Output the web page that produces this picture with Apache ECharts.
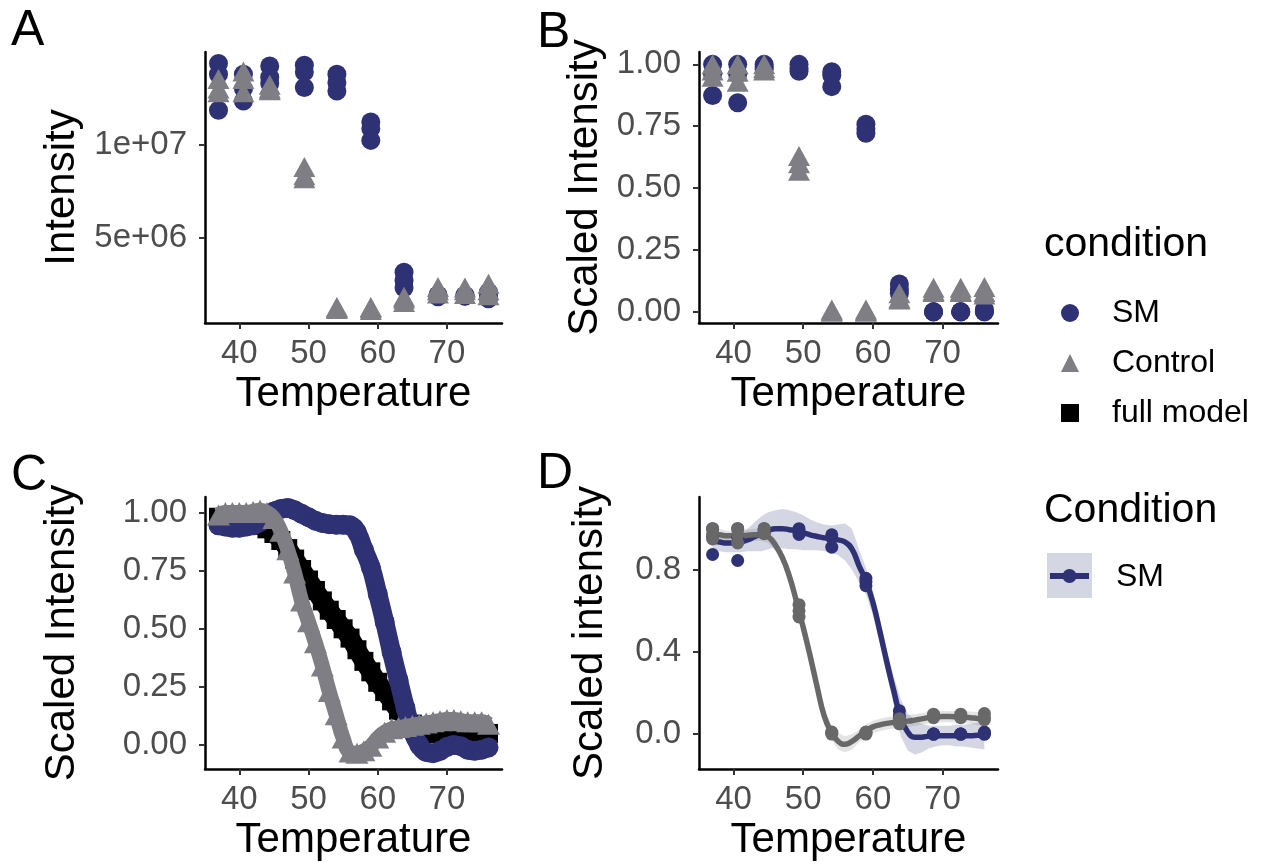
<!DOCTYPE html>
<html><head><meta charset="utf-8">
<script src="https://cdn.jsdelivr.net/npm/echarts@6/dist/echarts.min.js"></script>
<style>html,body{margin:0;padding:0;background:#fff}#c{width:1270px;height:862px}</style>
</head><body><div id="c"></div>
<script>
// ---- data ----
const temps = [37.0, 40.6, 44.4, 49.4, 54.1, 59.0, 63.8, 68.7, 72.6, 76.0];
const xTicks = [40, 50, 60, 70];

// Panel A: raw intensity (replicates), SM
const smA1 = [14.33e6, 13.76e6, 14.20e6, 14.24e6, 13.76e6, 11.20e6, 3.17e6, 1.95e6, 1.93e6, 2.10e6];
const smA2 = [13.76e6, 12.99e6, 13.60e6, 13.88e6, 13.31e6, 10.85e6, 2.73e6, 1.90e6, 1.90e6, 1.90e6];
const smA3 = [11.83e6, 12.33e6, 13.26e6, 13.05e6, 12.86e6, 10.22e6, 2.34e6, 1.85e6, 1.88e6, 1.75e6];
// Panel A: Control
const ctA1 = [13.50e6, 13.90e6, 13.20e6, 8.80e6, 1.30e6, 1.30e6, 1.85e6, 2.37e6, 2.35e6, 2.55e6];
const ctA2 = [13.00e6, 13.50e6, 13.00e6, 8.35e6, 1.25e6, 1.25e6, 1.75e6, 2.20e6, 2.20e6, 2.20e6];
const ctA3 = [12.80e6, 12.80e6, 12.90e6, 8.20e6, 1.20e6, 1.15e6, 1.57e6, 2.03e6, 2.00e6, 1.93e6];
const yTicksA = [5e6, 1e7];

// Panel B / D points: scaled intensity
const smB1 = [1.000, 1.000, 1.000, 1.000, 0.970, 0.758, 0.113, 0.000, 0.000, 0.010];
const smB2 = [0.960, 0.960, 0.990, 0.985, 0.956, 0.740, 0.090, 0.000, 0.000, 0.000];
const smB3 = [0.874, 0.845, 0.980, 0.972, 0.910, 0.722, 0.075, 0.000, 0.000, 0.000];
const ctB1 = [1.000, 1.000, 1.000, 0.630, 0.010, 0.010, 0.075, 0.097, 0.097, 0.100];
const ctB2 = [0.975, 0.970, 0.985, 0.600, 0.005, 0.005, 0.055, 0.085, 0.085, 0.080];
const ctB3 = [0.950, 0.930, 0.975, 0.570, 0.000, 0.000, 0.050, 0.080, 0.080, 0.070];
const yTicksB = [0, 0.25, 0.5, 0.75, 1];

// Panel C: fitted curves
const tempsC = [37,38,39,40,41,42,43,44,45,46,47,48,49,50,51,52,53,54,55,56,57,58,59,60,61,62,63,64,65,66,67,68,69,70,71,72,73,74,75,76];
const smC = [0.945,0.94,0.935,0.935,0.94,0.945,0.96,0.98,1.005,1.015,1.02,1.01,0.995,0.98,0.965,0.955,0.95,0.948,0.948,0.945,0.915,0.84,0.765,0.65,0.53,0.4,0.28,0.16,0.06,0.0,-0.03,-0.035,-0.025,-0.008,0.0,-0.005,-0.02,-0.025,-0.02,-0.01];
const ctC = [0.99,1.0,1.0,1.0,1.0,1.005,1.01,1.0,0.975,0.92,0.84,0.74,0.62,0.53,0.44,0.34,0.23,0.13,0.03,-0.03,-0.035,-0.025,-0.005,0.03,0.055,0.07,0.075,0.08,0.085,0.09,0.095,0.1,0.105,0.11,0.11,0.105,0.1,0.1,0.1,0.09];
const fmC = [0.98,0.975,0.97,0.965,0.96,0.955,0.945,0.93,0.91,0.88,0.845,0.8,0.755,0.71,0.665,0.62,0.58,0.54,0.5,0.46,0.41,0.36,0.315,0.27,0.23,0.19,0.15,0.12,0.09,0.07,0.055,0.05,0.05,0.05,0.05,0.045,0.04,0.04,0.045,0.05];

// Panel D: smooth fits and confidence ribbons
const tempsD = tempsC;
const smD = [0.94,0.935,0.93,0.93,0.935,0.945,0.96,0.975,0.99,1.0,1.0,0.995,0.99,0.98,0.97,0.962,0.955,0.95,0.945,0.935,0.9,0.82,0.745,0.64,0.5,0.35,0.21,0.08,0.01,-0.015,-0.015,-0.01,-0.008,-0.008,-0.008,-0.008,-0.008,-0.008,-0.006,-0.005];
const smDhi = [0.99,0.98,0.975,0.975,0.985,1.0,1.03,1.06,1.08,1.09,1.095,1.09,1.08,1.065,1.045,1.03,1.02,1.015,1.02,1.025,1.0,0.9,0.81,0.7,0.56,0.41,0.28,0.17,0.1,0.07,0.05,0.04,0.04,0.04,0.04,0.045,0.045,0.05,0.055,0.06];
const smDlo = [0.89,0.89,0.885,0.885,0.885,0.89,0.89,0.89,0.9,0.91,0.905,0.9,0.9,0.895,0.895,0.895,0.89,0.885,0.87,0.845,0.8,0.74,0.68,0.58,0.44,0.29,0.14,-0.01,-0.08,-0.1,-0.09,-0.07,-0.06,-0.055,-0.055,-0.06,-0.06,-0.065,-0.07,-0.075];
const ctD = [0.97,0.97,0.965,0.965,0.965,0.968,0.97,0.97,0.96,0.92,0.86,0.77,0.65,0.52,0.38,0.23,0.09,0.01,-0.035,-0.05,-0.035,-0.01,0.015,0.035,0.045,0.052,0.057,0.06,0.063,0.068,0.074,0.08,0.083,0.085,0.085,0.084,0.082,0.08,0.076,0.073];
const ctDhi = [1.005,1.0,0.99,0.99,0.99,0.995,1.0,1.0,0.99,0.95,0.89,0.8,0.68,0.55,0.41,0.26,0.12,0.045,0.005,-0.01,0.0,0.02,0.045,0.065,0.075,0.082,0.087,0.09,0.093,0.097,0.103,0.108,0.11,0.112,0.112,0.112,0.111,0.11,0.108,0.108];
const ctDlo = [0.935,0.94,0.94,0.94,0.94,0.941,0.94,0.94,0.93,0.89,0.83,0.74,0.62,0.49,0.35,0.2,0.06,-0.025,-0.075,-0.09,-0.075,-0.04,-0.015,0.005,0.015,0.022,0.027,0.03,0.033,0.039,0.045,0.052,0.056,0.058,0.058,0.056,0.053,0.05,0.044,0.038];
const yTicksD = [0, 0.4, 0.8];

// ---- styling ----
const NAVY = '#2E3174';
const GREY = '#7E7E84';
const GREYD = '#686868';
const FONT = '"Liberation Sans", Arial, sans-serif';

function pts(xs, arrs) { const o = []; arrs.forEach(a => a.forEach((v, i) => o.push([xs[i], v]))); return o; }
function line(xs, ys) { return xs.map((x, i) => [x, ys[i]]); }
function expFmt(v) { const p = v.toExponential().split('e'); const e = p[1]; return p[0] + 'e' + e[0] + e.slice(1).padStart(2, '0'); }

const grids = [
  {left: 205, top: 52, width: 297, height: 271},
  {left: 699, top: 52, width: 299, height: 271},
  {left: 205, top: 497, width: 297, height: 273},
  {left: 699, top: 497, width: 299, height: 273}
];

function xAxis(g) {
  return {
    type: 'value', gridIndex: g, min: 35.05, max: 77.95,
    name: 'Temperature', nameLocation: 'middle', nameGap: 50,
    nameTextStyle: {fontSize: 42, color: '#000', fontFamily: FONT},
    axisLine: {show: true, onZero: false, lineStyle: {color: '#000', width: 2.5}},
    axisTick: {show: true, length: 6, lineStyle: {color: '#333', width: 2}, customValues: xTicks},
    axisLabel: {fontSize: 33, color: '#4D4D4D', margin: 14, fontFamily: FONT, customValues: xTicks},
    splitLine: {show: false}
  };
}
function yAxis(g, min, max, ticks, fmt, name, gap) {
  return {
    type: 'value', gridIndex: g, min: min, max: max,
    name: name, nameLocation: 'middle', nameGap: gap,
    nameTextStyle: {fontSize: 42, color: '#000', fontFamily: FONT},
    axisLine: {show: true, onZero: false, lineStyle: {color: '#000', width: 2.5}},
    axisTick: {show: true, length: 6, lineStyle: {color: '#333', width: 2}, customValues: ticks},
    axisLabel: {fontSize: 33, color: '#4D4D4D', margin: 18, fontFamily: FONT, customValues: ticks, formatter: fmt},
    splitLine: {show: false}
  };
}

function ribbon(xi, xs, lo, hi, color) {
  return {
    type: 'custom', xAxisIndex: xi, yAxisIndex: xi, silent: true, z: 1,
    data: [[xs[0], lo[0]]],
    renderItem: function (params, api) {
      const p = [];
      for (let i = 0; i < xs.length; i++) p.push(api.coord([xs[i], hi[i]]));
      for (let i = xs.length - 1; i >= 0; i--) p.push(api.coord([xs[i], lo[i]]));
      return {type: 'polygon', shape: {points: p}, style: {fill: color}};
    }
  };
}

const series = [
  // A
  {name: 'SM', type: 'scatter', xAxisIndex: 0, yAxisIndex: 0, symbol: 'circle', symbolSize: 19, itemStyle: {color: NAVY, opacity: 1}, data: pts(temps, [smA1, smA2, smA3])},
  {name: 'Control', type: 'scatter', xAxisIndex: 0, yAxisIndex: 0, symbol: 'triangle', symbolSize: [22, 20], itemStyle: {color: GREY, opacity: 1}, data: pts(temps, [ctA1, ctA2, ctA3])},
  // B
  {name: 'SM', type: 'scatter', xAxisIndex: 1, yAxisIndex: 1, symbol: 'circle', symbolSize: 19, itemStyle: {color: NAVY, opacity: 1}, data: pts(temps, [smB1, smB2, smB3])},
  {name: 'Control', type: 'scatter', xAxisIndex: 1, yAxisIndex: 1, symbol: 'triangle', symbolSize: [22, 20], itemStyle: {color: GREY, opacity: 1}, data: pts(temps, [ctB1, ctB2, ctB3])},
  // C
  {name: 'full model', type: 'line', xAxisIndex: 2, yAxisIndex: 2, smooth: true, symbol: 'rect', symbolSize: 19, showSymbol: true,
   itemStyle: {color: '#000'}, lineStyle: {color: '#000', width: 19, join: 'round'}, data: line(tempsC, fmC), z: 2},
  {name: 'SM', type: 'line', xAxisIndex: 2, yAxisIndex: 2, smooth: true, symbol: 'circle', symbolSize: 20, showSymbol: true,
   itemStyle: {color: NAVY}, lineStyle: {color: NAVY, width: 19, cap: 'round', join: 'round'}, data: line(tempsC, smC), z: 3},
  {name: 'Control', type: 'line', xAxisIndex: 2, yAxisIndex: 2, smooth: true, symbol: 'triangle', symbolSize: [23, 21], showSymbol: true,
   itemStyle: {color: GREY}, lineStyle: {color: GREY, width: 15, join: 'round'}, data: line(tempsC, ctC), z: 4},
  // D
  ribbon(3, tempsD, smDlo, smDhi, 'rgba(46,49,116,0.2)'),
  ribbon(3, tempsD, ctDlo, ctDhi, 'rgba(120,120,120,0.2)'),
  {name: 'SM fit', type: 'line', xAxisIndex: 3, yAxisIndex: 3, smooth: true, symbol: 'none', lineStyle: {color: NAVY, width: 5.5}, data: line(tempsD, smD), z: 3},
  {name: 'Control fit', type: 'line', xAxisIndex: 3, yAxisIndex: 3, smooth: true, symbol: 'none', lineStyle: {color: GREYD, width: 5.5}, data: line(tempsD, ctD), z: 4},
  {name: 'SM pts', type: 'scatter', xAxisIndex: 3, yAxisIndex: 3, symbol: 'circle', symbolSize: 13, itemStyle: {color: NAVY, opacity: 1}, data: pts(temps, [smB1, smB2, smB3]), z: 5},
  {name: 'Control pts', type: 'scatter', xAxisIndex: 3, yAxisIndex: 3, symbol: 'circle', symbolSize: 13, itemStyle: {color: GREYD, opacity: 1}, data: pts(temps, [ctB1, ctB2, ctB3]), z: 6}
];

const letterStyle = {fontSize: 50, fontWeight: 'normal', color: '#000', fontFamily: FONT};
const legTitleStyle = {fontSize: 41, fontWeight: 'normal', color: '#000', fontFamily: FONT};

const option = {
  animation: false,
  backgroundColor: '#fff',
  textStyle: {fontFamily: FONT},
  title: [
    {text: 'A', left: 11, top: 6, textStyle: letterStyle, padding: 0},
    {text: 'B', left: 537, top: 8, textStyle: letterStyle, padding: 0},
    {text: 'C', left: 11, top: 451, textStyle: letterStyle, padding: 0},
    {text: 'D', left: 537, top: 449, textStyle: letterStyle, padding: 0},
    {text: 'condition', left: 1044, top: 224, textStyle: legTitleStyle, padding: 0},
    {text: 'Condition', left: 1044, top: 490, textStyle: legTitleStyle, padding: 0}
  ],
  grid: grids,
  xAxis: [xAxis(0), xAxis(1), xAxis(2), xAxis(3)],
  yAxis: [
    yAxis(0, 0.45e6, 14.95e6, yTicksA, expFmt, 'Intensity', 122),
    yAxis(1, -0.045, 1.05, yTicksB, v => v.toFixed(2), 'Scaled Intensity', 93),
    yAxis(2, -0.103, 1.067, yTicksB, v => v.toFixed(2), 'Scaled Intensity', 122),
    yAxis(3, -0.17, 1.154, yTicksD, v => v.toFixed(1), 'Scaled intensity', 88)
  ],
  legend: {
    orient: 'vertical', left: 1056, top: 291, itemWidth: 18, itemHeight: 18, itemGap: 16,
    selectedMode: false,
    textStyle: {fontSize: 32, color: '#000', lineHeight: 34, padding: [0, 0, 0, 28], fontFamily: FONT},
    data: [{name: 'SM', icon: 'circle'}, {name: 'Control', icon: 'triangle'}, {name: 'full model', icon: 'rect'}]
  },
  graphic: [
    {type: 'rect', left: 1047, top: 553, shape: {width: 45, height: 45}, style: {fill: '#D5D6E4'}},
    {type: 'line', shape: {x1: 1050, y1: 576, x2: 1089, y2: 576}, style: {stroke: NAVY, lineWidth: 6}},
    {type: 'circle', shape: {cx: 1069.5, cy: 576, r: 7}, style: {fill: NAVY}},
    {type: 'text', left: 1116, top: 561, style: {text: 'SM', fontSize: 32, fill: '#000', fontFamily: FONT}}
  ],
  series: series
};

const chart = echarts.init(document.getElementById('c'), null, {renderer: 'canvas'});
chart.setOption(option);
</script>
</body></html>
